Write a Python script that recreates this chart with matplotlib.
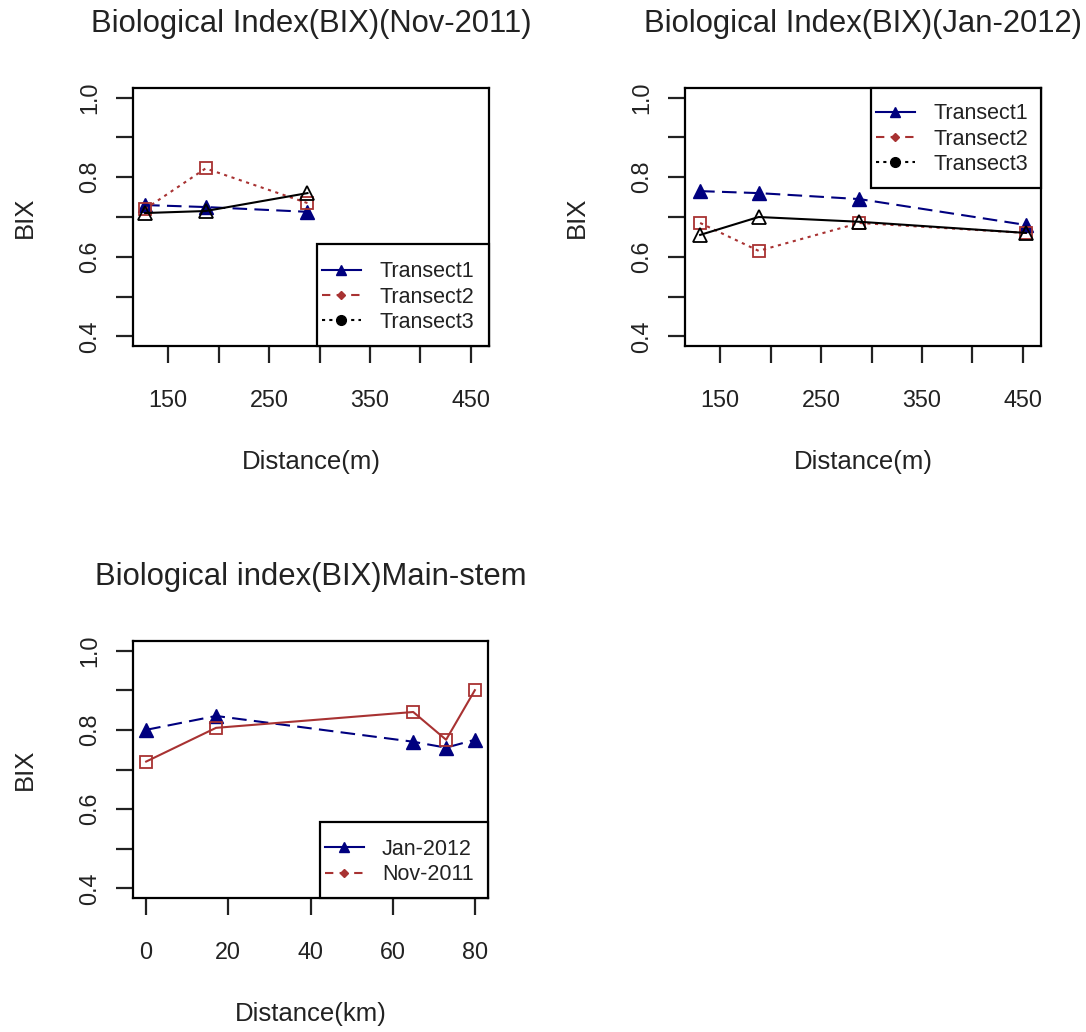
import matplotlib.pyplot as plt
from matplotlib.lines import Line2D
from matplotlib.patches import Rectangle

plt.rcParams['font.family'] = ['Liberation Sans', 'DejaVu Sans']

# Nov-2011 transects
dist_nov = [127, 187, 288]
bix_nov_t1 = [0.73, 0.725, 0.713]
bix_nov_t2 = [0.72, 0.822, 0.735]
bix_nov_t3 = [0.71, 0.715, 0.76]

# Jan-2012 transects
dist_jan = [130, 188, 288, 453]
bix_jan_t1 = [0.765, 0.76, 0.745, 0.68]
bix_jan_t2 = [0.685, 0.615, 0.685, 0.66]
bix_jan_t3 = [0.655, 0.70, 0.688, 0.66]

# main stem
dist_main = [0, 17, 65, 73, 80]
bix_main_jan = [0.80, 0.835, 0.77, 0.755, 0.775]
bix_main_nov = [0.72, 0.805, 0.845, 0.775, 0.90]

transect_labels = ["Transect1", "Transect2", "Transect3"]
main_labels = ["Jan-2012", "Nov-2011"]

BLUE = "#00007f"
RED = "#a83232"
INK = "#222222"
W, H = 1086, 1032

fig = plt.figure(figsize=(W / 100, H / 100), dpi=100)


def box(left, top, right, bottom):
    return [left / W, 1 - bottom / H, (right - left) / W, (bottom - top) / H]


def style_axes(ax, title, xlabel):
    for s in ax.spines.values():
        s.set_linewidth(1.6)
    ax.set_ylim(0.376, 1.024)
    ax.set_yticks([0.4, 0.5, 0.6, 0.7, 0.8, 0.9, 1.0])
    ax.set_yticklabels(["0.4", "", "0.6", "", "0.8", "", "1.0"], rotation=90, va="center")
    ax.tick_params(length=12, width=1.6, labelsize=16.8, color=INK, labelcolor=INK)
    ax.tick_params(axis="x", pad=19)
    ax.tick_params(axis="y", pad=11)
    ax.set_title(title, fontsize=22.3, pad=40, color=INK)
    ax.set_xlabel(xlabel, fontsize=18.5, labelpad=27, color=INK)
    ax.set_ylabel("BIX", fontsize=18.5, labelpad=30, color=INK)


def transect_handles():
    return [
        Line2D([], [], color=BLUE, lw=1.5, marker="^", ms=7),
        Line2D([], [], color=RED, lw=1.5, ls=(0, (4, 3)), marker="D", ms=4),
        Line2D([], [], color="black", lw=1.5, ls=(0, (1.5, 2)), marker="o", ms=7),
    ]


def add_legend(ax, handles, labels, px_box, rows_mid):
    # framed key drawn as a plain rectangle, entries placed inside it
    l, t, r, b = px_box
    x0, x1 = ax.get_position().x0 * W, ax.get_position().x1 * W
    y0, y1 = (1 - ax.get_position().y1) * H, (1 - ax.get_position().y0) * H
    fx = lambda px: (px - x0) / (x1 - x0)
    fy = lambda py: (y1 - py) / (y1 - y0)
    ax.add_patch(Rectangle((fx(l), fy(b)), fx(r) - fx(l), fy(t) - fy(b),
                           transform=ax.transAxes, fill=True, facecolor="white",
                           edgecolor="black", lw=1.6, zorder=4, clip_on=False))
    leg = ax.legend(handles, labels, loc="center left", bbox_to_anchor=(fx(l + 5), fy(rows_mid)),
                    fontsize=15.5, frameon=False, borderaxespad=0, borderpad=0,
                    labelspacing=0.19, handlelength=1.8, handletextpad=0.85, numpoints=1)
    leg.set_zorder(5)
    for txt in leg.get_texts():
        txt.set_color(INK)
    return leg


dashed = (0, (7, 3.5))
dotted = (0, (1.5, 2.2))

# Nov-2011
ax1 = fig.add_axes(box(133, 88, 489, 346))
ax1.plot(dist_nov, bix_nov_t1, color=BLUE, lw=1.5, ls=dashed, marker="^", ms=9.5)
ax1.plot(dist_nov, bix_nov_t2, color=RED, lw=1.5, ls=dotted, marker="s", ms=9,
         mfc="none", mew=1.3)
ax1.plot(dist_nov, bix_nov_t3, color="black", lw=1.5, marker="^", ms=10.5,
         mfc="none", mew=1.3)
ax1.set_xlim(115, 468)
ax1.set_xticks([150, 200, 250, 300, 350, 400, 450])
ax1.set_xticklabels(["150", "", "250", "", "350", "", "450"])
style_axes(ax1, "Biological Index(BIX)(Nov-2011)", "Distance(m)")
add_legend(ax1, transect_handles(), transect_labels, (317, 244, 489, 346), 297)

# Jan-2012
ax2 = fig.add_axes(box(685, 88, 1041, 346))
ax2.plot(dist_jan, bix_jan_t1, color=BLUE, lw=1.5, ls=dashed, marker="^", ms=9.5)
ax2.plot(dist_jan, bix_jan_t2, color=RED, lw=1.5, ls=dotted, marker="s", ms=9,
         mfc="none", mew=1.3)
ax2.plot(dist_jan, bix_jan_t3, color="black", lw=1.5, marker="^", ms=10.5,
         mfc="none", mew=1.3)
ax2.set_xlim(115, 468)
ax2.set_xticks([150, 200, 250, 300, 350, 400, 450])
ax2.set_xticklabels(["150", "", "250", "", "350", "", "450"])
style_axes(ax2, "Biological Index(BIX)(Jan-2012)", "Distance(m)")
add_legend(ax2, transect_handles(), transect_labels, (871, 88, 1041, 188), 139)

# main stem
ax3 = fig.add_axes(box(133, 641, 488, 898))
ax3.plot(dist_main, bix_main_jan, color=BLUE, lw=1.5, ls=dashed, marker="^", ms=9.5)
ax3.plot(dist_main, bix_main_nov, color=RED, lw=1.5, marker="s", ms=9,
         mfc="none", mew=1.3)
ax3.set_xlim(-3.2, 83.2)
ax3.set_xticks([0, 20, 40, 60, 80])
style_axes(ax3, "Biological index(BIX)Main-stem", "Distance(km)")
main_handles = [
    Line2D([], [], color=BLUE, lw=1.5, marker="^", ms=7),
    Line2D([], [], color=RED, lw=1.5, ls=(0, (4, 3)), marker="D", ms=4),
]
add_legend(ax3, main_handles, main_labels, (320, 822, 488, 898), 862)

fig.savefig("out.png", dpi=100)
